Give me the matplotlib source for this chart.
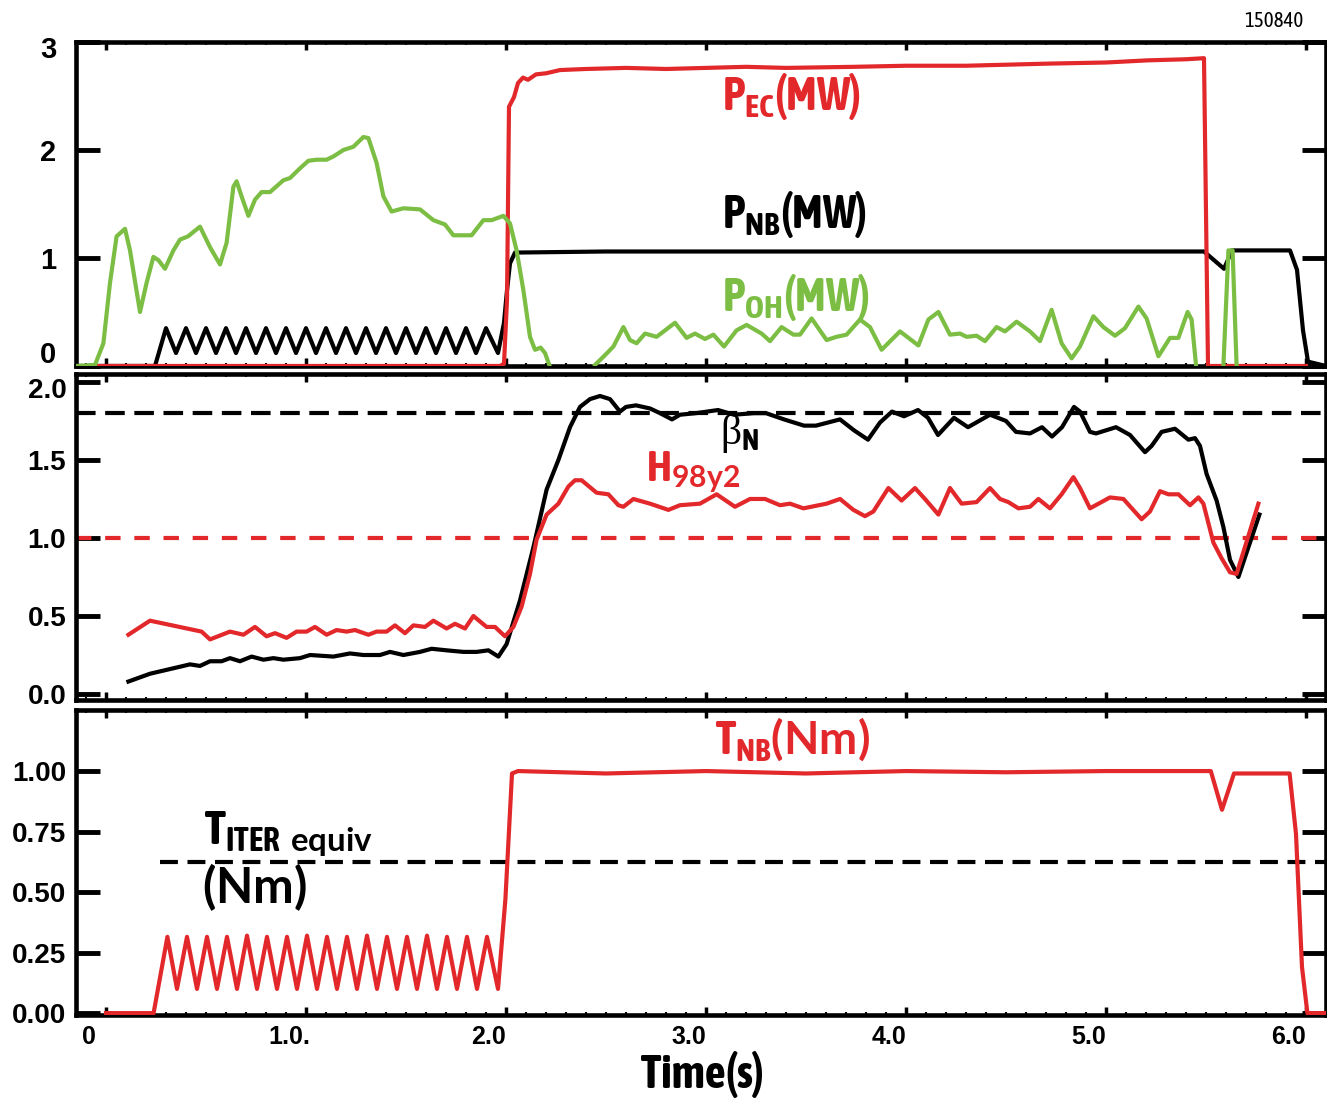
"""
Shot 150840 time traces: heating powers, beta_N / H98y2 and injected NB torque.
"""

import matplotlib
matplotlib.use("Agg")
import matplotlib.pyplot as plt
import numpy as np
from matplotlib import font_manager, transforms


RED = "#E2282A"
GREEN = "#7BBE43"
BLACK = "black"

XMIN, XMAX = -0.15, 6.10
XTICKS = [0, 1, 2, 3, 4, 5, 6]
XTICK_LABELS = ["0", "1.0.", "2.0", "3.0", "4.0", "5.0", "6.0"]

# --- panel 1: powers (MW) ---
PEC_T = [-0.05, 1.97, 1.99, 2.005, 2.015, 2.04, 2.06, 2.085, 2.11, 2.15, 2.20, 2.27,
         2.40, 2.60, 2.80, 3.00, 3.20, 3.40, 3.74, 4.00, 4.30, 4.72, 5.00, 5.21, 5.40, 5.49, 5.51, 6.00]
PEC_V = [0.0, 0.0, 0.02, 0.61, 2.40, 2.49, 2.62, 2.67, 2.65, 2.70, 2.71, 2.74,
         2.75, 2.76, 2.75, 2.76, 2.77, 2.76, 2.77, 2.78, 2.78, 2.80, 2.81, 2.83, 2.84, 2.85, 0.0, 0.0]

PNB_T = [-0.15, 0.245,
         0.30, 0.35, 0.40, 0.45, 0.50, 0.55, 0.60, 0.65, 0.70, 0.75, 0.80,
         0.85, 0.90, 0.95, 1.00, 1.05, 1.10, 1.15, 1.20, 1.25, 1.30, 1.35,
         1.40, 1.45, 1.50, 1.55, 1.60, 1.65, 1.70, 1.75, 1.80, 1.85, 1.90,
         1.96, 1.99, 2.005, 2.02, 2.045, 2.5, 3.0, 3.5, 4.0, 4.5, 5.0, 5.49,
         5.59, 5.63, 5.92, 5.955, 5.985, 6.01, 6.10]
PNB_V = [0.0, 0.0,
         0.35, 0.12, 0.35, 0.12, 0.35, 0.12, 0.35, 0.12, 0.35, 0.12, 0.35,
         0.12, 0.35, 0.12, 0.35, 0.12, 0.35, 0.12, 0.35, 0.12, 0.35, 0.12,
         0.35, 0.12, 0.35, 0.12, 0.35, 0.12, 0.35, 0.12, 0.35, 0.12, 0.35,
         0.12, 0.40, 0.70, 0.95, 1.05, 1.06, 1.06, 1.06, 1.06, 1.06, 1.06, 1.06,
         0.90, 1.07, 1.07, 0.89, 0.33, 0.04, 0.0]

POH_T = [-0.147, -0.055, -0.013, 0.02, 0.053, 0.095, 0.12, 0.17, 0.203, 0.237,
         0.262, 0.295, 0.337, 0.37, 0.41, 0.47, 0.52, 0.57, 0.603, 0.637,
         0.653, 0.678, 0.712, 0.745, 0.778, 0.82, 0.887, 0.92, 0.97, 1.012,
         1.053, 1.103, 1.137, 1.187, 1.237, 1.287, 1.312, 1.353, 1.387, 1.428,
         1.487, 1.57, 1.637, 1.695, 1.737, 1.778, 1.828, 1.887, 1.928, 1.987,
         2.02, 2.053, 2.087, 2.12, 2.145, 2.173, 2.195, 2.22, np.nan,
         2.445, 2.495, 2.537, 2.587, 2.62, 2.653, 2.695, 2.753, 2.845, 2.903,
         2.945, 2.995, 3.037, 3.09, 3.153, 3.203, 3.278, 3.32, 3.378, 3.437,
         3.47, 3.528, 3.603, 3.653, 3.703, 3.77, 3.82, 3.878, 3.97, 4.062,
         4.112, 4.162, 4.22, 4.27, 4.303, 4.353, 4.395, 4.453, 4.495, 4.553,
         4.62, 4.67, 4.728, 4.778, 4.828, 4.87, 4.937, 4.987, 5.045, 5.095,
         5.162, 5.203, 5.262, 5.32, 5.362, 5.408, 5.428, 5.45, np.nan,
         5.587, 5.612, 5.633, 5.653]
POH_V = [0.0, 0.01, 0.21, 0.77, 1.20, 1.27, 1.07, 0.50, 0.77, 1.01,
         0.98, 0.90, 1.07, 1.17, 1.20, 1.29, 1.10, 0.94, 1.14, 1.66,
         1.71, 1.57, 1.39, 1.54, 1.61, 1.61, 1.72, 1.74, 1.83, 1.90,
         1.91, 1.91, 1.94, 2.00, 2.03, 2.12, 2.11, 1.88, 1.57, 1.43,
         1.46, 1.45, 1.35, 1.31, 1.21, 1.21, 1.21, 1.35, 1.35, 1.39,
         1.32, 1.07, 0.70, 0.27, 0.15, 0.17, 0.12, -0.01, np.nan,
         0.01, 0.10, 0.18, 0.36, 0.24, 0.21, 0.30, 0.27, 0.40, 0.26,
         0.30, 0.25, 0.29, 0.18, 0.33, 0.38, 0.30, 0.23, 0.36, 0.29,
         0.29, 0.44, 0.24, 0.27, 0.29, 0.43, 0.36, 0.15, 0.32, 0.19,
         0.43, 0.50, 0.29, 0.30, 0.27, 0.28, 0.23, 0.36, 0.32, 0.41,
         0.32, 0.23, 0.52, 0.21, 0.07, 0.18, 0.46, 0.36, 0.28, 0.35,
         0.55, 0.44, 0.09, 0.26, 0.26, 0.50, 0.43, 0.01, np.nan,
         0.0, 1.07, 1.07, 0.0]

# --- panel 2: beta_N and H98y2 ---
BETA_T = [0.112, 0.22, 0.32, 0.42, 0.47, 0.52, 0.578, 0.62, 0.67, 0.728,
          0.787, 0.837, 0.887, 0.97, 1.02, 1.137, 1.22, 1.287, 1.37, 1.42,
          1.487, 1.57, 1.628, 1.703, 1.787, 1.853, 1.912, 1.962, 2.003, 2.07,
          2.137, 2.203, 2.262, 2.32, 2.37, 2.42, 2.47, 2.52, 2.57, 2.60,
          2.65, 2.72, 2.77, 2.83, 2.87, 2.95, 3.06, 3.14, 3.24, 3.30,
          3.39, 3.49, 3.55, 3.67, 3.74, 3.81, 3.87, 3.93, 3.99, 4.06,
          4.11, 4.16, 4.24, 4.31, 4.42, 4.50, 4.55, 4.62, 4.68, 4.73,
          4.78, 4.84, 4.87, 4.92, 4.95, 5.05, 5.12, 5.195, 5.228, 5.278,
          5.345, 5.412, 5.445, 5.47, 5.503, 5.553, 5.587, 5.62, 5.662, 5.767]
BETA_V = [0.08, 0.13, 0.16, 0.19, 0.18, 0.21, 0.21, 0.23, 0.21, 0.24,
          0.22, 0.23, 0.22, 0.23, 0.25, 0.24, 0.26, 0.25, 0.25, 0.27,
          0.25, 0.27, 0.29, 0.28, 0.27, 0.27, 0.28, 0.24, 0.32, 0.60,
          0.94, 1.31, 1.50, 1.71, 1.84, 1.89, 1.91, 1.89, 1.81, 1.84,
          1.85, 1.83, 1.80, 1.76, 1.79, 1.80, 1.82, 1.79, 1.80, 1.80,
          1.76, 1.72, 1.72, 1.76, 1.69, 1.63, 1.74, 1.81, 1.78, 1.82,
          1.77, 1.66, 1.77, 1.71, 1.79, 1.75, 1.68, 1.67, 1.71, 1.65,
          1.71, 1.84, 1.81, 1.68, 1.67, 1.71, 1.66, 1.55, 1.59, 1.68,
          1.70, 1.63, 1.64, 1.59, 1.41, 1.24, 1.07, 0.86, 0.75, 1.15]

H98_T = [0.112, 0.22, 0.478, 0.52, 0.62, 0.687, 0.745, 0.803, 0.845, 0.903,
         0.953, 1.003, 1.045, 1.103, 1.153, 1.203, 1.245, 1.312, 1.353, 1.403,
         1.445, 1.495, 1.537, 1.595, 1.637, 1.703, 1.745, 1.795, 1.837, 1.903,
         1.945, 1.995, 2.037, 2.078, 2.12, 2.153, 2.203, 2.262, 2.312, 2.345,
         2.378, 2.453, 2.512, 2.562, 2.587, 2.637, 2.72, 2.812, 2.87, 2.97,
         3.053, 3.145, 3.22, 3.295, 3.37, 3.42, 3.487, 3.603, 3.67, 3.737,
         3.795, 3.837, 3.912, 3.978, 4.045, 4.095, 4.162, 4.22, 4.278, 4.353,
         4.42, 4.47, 4.512, 4.562, 4.62, 4.662, 4.72, 4.778, 4.837, 4.87,
         4.92, 5.02, 5.087, 5.178, 5.22, 5.27, 5.312, 5.362, 5.42, 5.462,
         5.487, 5.537, 5.578, 5.62, 5.653, 5.762]
H98_V = [0.38, 0.47, 0.40, 0.35, 0.40, 0.38, 0.43, 0.37, 0.39, 0.36,
         0.40, 0.40, 0.43, 0.38, 0.41, 0.40, 0.41, 0.38, 0.40, 0.40,
         0.44, 0.39, 0.44, 0.43, 0.47, 0.42, 0.45, 0.42, 0.50, 0.43,
         0.43, 0.37, 0.43, 0.56, 0.77, 0.99, 1.15, 1.22, 1.33, 1.37,
         1.37, 1.29, 1.28, 1.21, 1.20, 1.25, 1.22, 1.18, 1.21, 1.22,
         1.28, 1.20, 1.25, 1.25, 1.21, 1.22, 1.19, 1.22, 1.25, 1.18,
         1.14, 1.17, 1.32, 1.24, 1.32, 1.25, 1.15, 1.32, 1.22, 1.23,
         1.32, 1.25, 1.23, 1.19, 1.20, 1.25, 1.19, 1.28, 1.39, 1.32,
         1.19, 1.26, 1.25, 1.12, 1.17, 1.30, 1.28, 1.28, 1.21, 1.26,
         1.22, 0.97, 0.87, 0.78, 0.77, 1.22]

BETA_REF = 1.80
H98_REF = 1.0

# --- panel 3: NB torque (Nm) ---
TNB_T = [0.0, 0.238,
         0.307, 0.355, 0.405, 0.455, 0.505, 0.555, 0.605, 0.655, 0.705, 0.755, 0.805,
         0.855, 0.905, 0.955, 1.005, 1.055, 1.105, 1.155, 1.205, 1.255, 1.305, 1.355,
         1.405, 1.455, 1.505, 1.555, 1.605, 1.655, 1.705, 1.755, 1.805, 1.855, 1.905,
         1.96, 1.997, 2.03, 2.06, 2.5, 3.0, 3.5, 4.0, 4.5, 5.0, 5.524,
         5.58, 5.64, 5.918, 5.95, 5.98, 6.007, 6.10]
TNB_V = [0.0, 0.0,
         0.315, 0.10, 0.315, 0.10, 0.315, 0.10, 0.315, 0.10, 0.32, 0.10, 0.315,
         0.10, 0.315, 0.10, 0.32, 0.10, 0.315, 0.10, 0.315, 0.10, 0.32, 0.10,
         0.315, 0.10, 0.315, 0.10, 0.32, 0.10, 0.315, 0.10, 0.315, 0.10, 0.315,
         0.10, 0.47, 0.99, 1.0, 0.99, 1.0, 0.99, 1.0, 0.995, 1.0, 1.0,
         0.84, 0.99, 0.99, 0.74, 0.19, 0.0, 0.0]

T_ITER = 0.625
T_ITER_START = 0.27


def weight_of(entry):
    w = entry.weight
    if isinstance(w, str):
        w = font_manager.weight_dict.get(w, 400)
    return w


def condensed_bold():
    """Find a bold narrow/condensed face; returns (family, stretch)."""
    entries = font_manager.fontManager.ttflist
    for wanted in ("Liberation Sans Narrow", "Arial Narrow", "DejaVu Sans Condensed"):
        if any(e.name == wanted and weight_of(e) >= 600 for e in entries):
            return wanted, "normal"
    for e in entries:
        if weight_of(e) >= 600 and ("Narrow" in e.name or "Condensed" in e.name):
            return e.name, "normal"
    for pref in ("DejaVu Sans", "Noto Sans", "Open Sans", "Roboto"):
        for e in entries:
            if e.name == pref and weight_of(e) >= 600 and e.stretch in (
                    "condensed", "semi-condensed", "extra-condensed"):
                return e.name, e.stretch
    for e in entries:
        if weight_of(e) >= 600 and e.stretch in ("condensed", "semi-condensed", "extra-condensed"):
            return e.name, e.stretch
    return "DejaVu Sans", "normal"


def bold_family(names, fallback):
    entries = font_manager.fontManager.ttflist
    for name in names:
        if any(e.name == name and weight_of(e) >= 700 for e in entries):
            return name
    return fallback


NARROW, NARROW_STRETCH = condensed_bold()
ROUND = bold_family(["Lato", "Open Sans", "Noto Sans"], "DejaVu Sans")

plt.rcParams["font.family"] = ["Liberation Sans", "DejaVu Sans"]
plt.rcParams["font.weight"] = "bold"
plt.rcParams["mathtext.fontset"] = "custom"
plt.rcParams["mathtext.bf"] = f"{NARROW}:weight=bold:stretch={NARROW_STRETCH}"
plt.rcParams["mathtext.rm"] = "Liberation Serif:weight=normal"
plt.rcParams["mathtext.sf"] = f"{ROUND}:weight=bold"


def style_axis(ax, ylim, yticks, ylabels, ysize, ypad):
    ax.set_xlim(XMIN, XMAX)
    ax.set_ylim(*ylim)
    ax.set_yticks(yticks, ylabels)
    ax.set_xticks(XTICKS)
    ax.set_xticks(np.arange(-0.1, 6.1, 0.1), minor=True)
    for spine in ax.spines.values():
        spine.set_linewidth(3.3)
    ax.tick_params(axis="y", which="major", direction="in", length=17, width=3.5,
                   left=True, right=True, labelsize=ysize, pad=ypad)
    ax.tick_params(axis="y", which="minor", left=False, right=False)
    ax.tick_params(axis="x", which="major", direction="in", length=6, width=2.5,
                   top=True, bottom=True, labelbottom=False)
    ax.tick_params(axis="x", which="minor", direction="in", length=2.5, width=1.5,
                   top=True, bottom=True)


def shift(label, fig, dx_px, dy_px):
    off = transforms.ScaledTranslation(dx_px / fig.dpi, dy_px / fig.dpi, fig.dpi_scale_trans)
    label.set_transform(label.get_transform() + off)


fig = plt.figure(figsize=(13.27, 10.99), dpi=100)
left, width = 76 / 1327, 1250 / 1327
ax1 = fig.add_axes([left, 0.6670, width, 0.2948])
ax2 = fig.add_axes([left, 0.3631, width, 0.2966])
ax3 = fig.add_axes([left, 0.0764, width, 0.2775])

# panel 1
style_axis(ax1, (0.0, 3.0), [0, 1, 2, 3], ["0", "1", "2", "3"], 21, 14)
ax1.plot(PNB_T, PNB_V, color=BLACK, lw=3, solid_joinstyle="round", zorder=3)
ax1.plot(PEC_T, PEC_V, color=RED, lw=3, solid_joinstyle="round", zorder=4)
ax1.plot(POH_T, POH_V, color=GREEN, lw=3, solid_joinstyle="round", zorder=5)
ylab = ax1.get_yticklabels()
shift(ylab[0], fig, 0, 14)
shift(ylab[-1], fig, 0, -5)

ax1.text(3.08, 2.37, r"$\mathbf{P}_{\mathbf{EC}}\mathbf{(MW)}$", color=RED, fontsize=33, va="baseline")
ax1.text(3.08, 1.28, r"$\mathbf{P}_{\mathbf{NB}}\mathbf{(MW)}$", color=BLACK, fontsize=33, va="baseline")
ax1.text(3.08, 0.51, r"$\mathbf{P}_{\mathbf{OH}}\mathbf{(MW)}$", color=GREEN, fontsize=33, va="baseline",
         zorder=6)

# panel 2
style_axis(ax2, (-0.038, 2.051), [0, 0.5, 1.0, 1.5, 2.0], ["0.0", "0.5", "1.0", "1.5", "2.0"], 20, 7)
ax2.axhline(BETA_REF, color=BLACK, lw=3, ls=(0, (4.7, 2.3)), zorder=2)
ax2.axhline(H98_REF, color=RED, lw=3, ls=(0, (3.7, 3.3)), zorder=2)
ax2.plot(BETA_T, BETA_V, color=BLACK, lw=3, solid_joinstyle="round", zorder=3)
ax2.plot(H98_T, H98_V, color=RED, lw=3, solid_joinstyle="round", zorder=4)
shift(ax2.get_yticklabels()[-1], fig, 0, -6)

ax2.text(3.07, 1.60, r"$\mathrm{\beta}_{\mathbf{N}}$", color=BLACK, fontsize=30, va="baseline")
ax2.text(2.70, 1.365, r"$\mathbf{H}_{\mathsf{98y2}}$", color=RED, fontsize=31, va="baseline")

# panel 3
style_axis(ax3, (-0.008, 1.252), [0, 0.25, 0.5, 0.75, 1.0],
           ["0.00", "0.25", "0.50", "0.75", "1.00"], 20, 7)
ax3.hlines(T_ITER, T_ITER_START, XMAX, color=BLACK, lw=3, ls=(0, (4.3, 2.3)), zorder=2)
ax3.plot(TNB_T, TNB_V, color=RED, lw=3, solid_joinstyle="round", zorder=3)
ax3.set_xticks(XTICKS, XTICK_LABELS)
ax3.tick_params(axis="x", which="major", labelbottom=True, labelsize=18, pad=7)
for lbl in ax3.get_xticklabels():
    shift(lbl, fig, -17, 0)

ax3.text(3.045, 1.074, r"$\mathbf{T}_{\mathbf{NB}}\mathsf{(Nm)}$", color=RED, fontsize=33, va="baseline")
ax3.text(0.49, 0.70, r"$\mathbf{T}_{\mathbf{ITER}\ \mathsf{equiv}}$", color=BLACK, fontsize=34,
         va="baseline")
ax3.text(0.48, 0.455, r"$\mathsf{(Nm)}$", color=BLACK, fontsize=35, va="baseline")

fig.text(702 / 1327, 0.010, "Time(s)", family=[NARROW, "DejaVu Sans"], stretch=NARROW_STRETCH,
         weight="bold", fontsize=33, ha="center", va="baseline")
fig.text(1303 / 1327, 1 - 27 / 1099, "150840", family=[NARROW, "DejaVu Sans"], stretch=NARROW_STRETCH,
         weight="normal", fontsize=15, ha="right", va="baseline")

fig.savefig("out.png", dpi=100)
